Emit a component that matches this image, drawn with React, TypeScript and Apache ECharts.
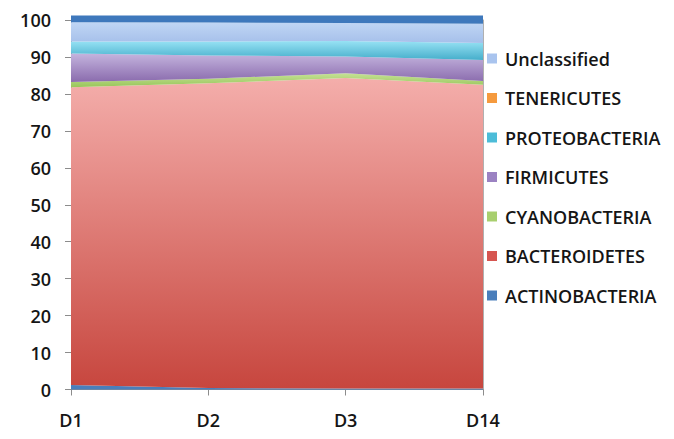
import React, { useEffect, useRef } from "react";
import * as echarts from "echarts";

const categories = ["D1", "D2", "D3", "D14"];
const actinobacteria = [1.2, 0.4, 0.3, 0.3];
const bacteroidetes = [80.6, 82.5, 84.0, 82.2];
const cyanobacteria = [1.4, 1.2, 1.3, 1.0];
const firmicutes = [7.7, 6.3, 4.5, 5.7];
const proteobacteria = [3.3, 3.8, 4.2, 4.6];
const tenericutes = [0, 0, 0, 0];
const unclassified = [5.2, 5.1, 4.9, 5.2];
const other = [1.8, 1.9, 2.0, 2.2];
const legendOrder = [
  "Unclassified",
  "TENERICUTES",
  "PROTEOBACTERIA",
  "FIRMICUTES",
  "CYANOBACTERIA",
  "BACTEROIDETES",
  "ACTINOBACTERIA",
];

const FONT = "Open Sans";

function grad(top: string, bottom: string) {
  return new echarts.graphic.LinearGradient(0, 0, 0, 1, [
    { offset: 0, color: top },
    { offset: 1, color: bottom },
  ]);
}

function area(name: string, data: number[], solid: string, fill: any) {
  return {
    name,
    type: "line",
    stack: "total",
    data,
    showSymbol: false,
    symbol: "none",
    clip: false,
    lineStyle: { width: 0 },
    itemStyle: { color: solid },
    areaStyle: { color: fill, opacity: 1 },
  };
}

export default function App() {
  const ref = useRef<HTMLDivElement>(null);
  useEffect(() => {
    const chart = echarts.init(ref.current!, null, { renderer: "svg" });
    chart.setOption({
      animation: false,
      backgroundColor: "#ffffff",
      grid: { left: 71, right: 191, top: 20, bottom: 49.5 },
      legend: {
        orient: "vertical",
        left: 487,
        top: 48.5,
        padding: 0,
        icon: "rect",
        itemWidth: 10,
        itemHeight: 10,
        itemGap: 19.5,
        data: legendOrder,
        textStyle: {
          fontFamily: FONT,
          fontSize: 18,
          fontWeight: 600,
          color: "#151515",
          lineHeight: 20,
          padding: [0, 0, 0, 3],
        },
      },
      xAxis: {
        type: "category",
        data: categories,
        boundaryGap: false,
        axisLine: { lineStyle: { color: "#8c8c8c", width: 1 } },
        axisTick: { show: true, length: 6, lineStyle: { color: "#8c8c8c" } },
        axisLabel: { fontFamily: FONT, fontSize: 18, fontWeight: 600, color: "#151515", margin: 21 },
        splitLine: { show: false },
      },
      yAxis: [
        {
          type: "value",
          min: 0,
          max: 100,
          interval: 10,
          axisLine: { show: true, lineStyle: { color: "#8c8c8c", width: 1 } },
          axisTick: { show: true, length: 6, lineStyle: { color: "#8c8c8c" } },
          axisLabel: { fontFamily: FONT, fontSize: 18, fontWeight: 600, color: "#151515", margin: 20 },
          splitLine: { show: false },
        },
        {
          type: "value",
          position: "right",
          min: 0,
          max: 100,
          axisLine: { show: true, lineStyle: { color: "#b0b0b0", width: 1 } },
          axisTick: { show: false },
          axisLabel: { show: false },
          splitLine: { show: false },
        },
      ],
      series: [
        area("ACTINOBACTERIA", actinobacteria, "#4A7EBB", "#4A7EBB"),
        area("BACTEROIDETES", bacteroidetes, "#D65550", grad("#F4AEAB", "#C7463E")),
        area("CYANOBACTERIA", cyanobacteria, "#A8CF6E", grad("#C6E296", "#98C55A")),
        area("FIRMICUTES", firmicutes, "#9B82C2", grad("#C4B4DE", "#8A6BAD")),
        area("PROTEOBACTERIA", proteobacteria, "#4CBCD8", grad("#97E2F4", "#46AECB")),
        area("TENERICUTES", tenericutes, "#F59A3E", "#F59A3E"),
        area("Unclassified", unclassified, "#A9C4EE", grad("#C0D6F5", "#A6C0EA")),
        area("Other", other, "#3E78BC", "#3E78BC"),
      ],
    });
    return () => chart.dispose();
  }, []);
  return <div ref={ref} style={{ width: 674, height: 439, position: "absolute", left: 0, top: 0 }} />;
}
